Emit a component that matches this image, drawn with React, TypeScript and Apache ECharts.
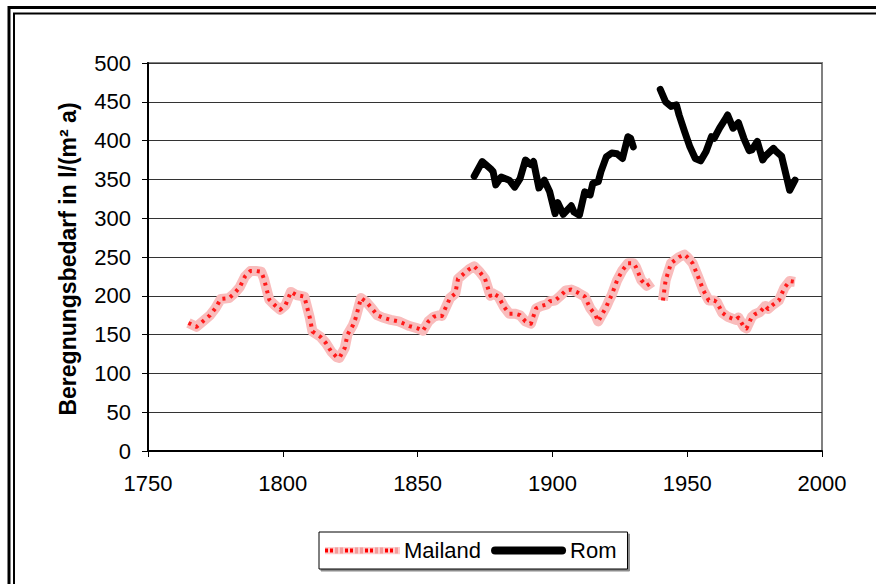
import React, { useEffect, useRef } from "react";
import * as echarts from "echarts";

const xTicks = [1750, 1800, 1850, 1900, 1950, 2000];
const yTicks = [0, 50, 100, 150, 200, 250, 300, 350, 400, 450, 500];

const mailandYears = [
  1765, 1768, 1771, 1773, 1775, 1777, 1780, 1782, 1784, 1786, 1788, 1790, 1792, 1793, 1795, 1797, 1799,
  1801, 1803, 1805, 1808, 1810, 1811, 1814, 1816, 1818, 1820, 1821, 1823, 1824, 1826, 1827, 1829, 1831,
  1833, 1835, 1837, 1840, 1843, 1845, 1847, 1850, 1852, 1854, 1856, 1858, 1859, 1862, 1864, 1865, 1867,
  1869, 1871, 1873, 1875, 1877, 1878, 1880, 1882, 1884, 1886, 1888, 1890, 1892, 1894, 1896, 1898, 1899,
  1901, 1903, 1905, 1907, 1909, 1910, 1912, 1914, 1916, 1917, 1920, 1921, 1922, 1924, 1926, 1928, 1930,
  1931, 1933, 1935, 1937, 1939, 1941, 1942, 1944, 1947, 1949, 1950, 1952, 1954, 1956, 1958, 1960, 1961,
  1963, 1965, 1968, 1969, 1971, 1972, 1974, 1975, 1977, 1979, 1980, 1982, 1984, 1986, 1988, 1990,
];
const mailandValues = [
  165, 160, 169, 175, 184, 196, 197, 203, 211, 225, 232, 232, 231, 222, 195, 188, 182,
  188, 205, 201, 199, 172, 154, 147, 139, 128, 121, 120, 133, 150, 162, 171, 197, 192,
  184, 175, 172, 169, 167, 164, 161, 158, 155, 167, 173, 175, 174, 197, 203, 222, 228,
  234, 238, 231, 222, 200, 203, 199, 186, 177, 177, 175, 167, 164, 184, 187, 189, 193,
  194, 200, 207, 208, 205, 203, 199, 184, 175, 167, 186, 194, 201, 220, 233, 242, 242,
  237, 220, 213, 218, null, 194, 220, 242, 250, 253, 250, 242, 225, 207, 194, 194, 192,
  178, 173, 169, 172, 160, 158, 173, 176, 179, 187, 183, 189, 194, 210, 219, 218,
];

const romYears = [
  1871, 1874, 1877, 1878, 1879, 1881, 1884, 1886, 1888, 1890, 1892, 1893, 1895, 1897, 1899, 1901, 1902,
  1904, 1907, 1908, 1910, 1912, 1914, 1915, 1917, 1918, 1920, 1922, 1924, 1926, 1928, 1929, 1930, 1935,
  1940, 1942, 1944, 1946, 1947, 1949, 1951, 1953, 1955, 1957, 1959, 1960, 1962, 1964, 1965, 1967, 1969,
  1971, 1973, 1974, 1976, 1978, 1979, 1982, 1983, 1985, 1987, 1988, 1990,
];
const romValues = [
  354, 373, 364, 360, 343, 353, 349, 340, 351, 375, 369, 373, 339, 349, 334, 306, 320,
  305, 316, 308, 304, 334, 330, 345, 347, 360, 379, 384, 383, 377, 405, 403, 392, null,
  466, 450, 444, 446, 433, 412, 392, 377, 374, 386, 405, 403, 416, 427, 433, 416, 423,
  403, 387, 388, 399, 375, 380, 390, 386, 380, 351, 336, 349,
];

const FONT = "'Liberation Sans', Arial, sans-serif";

function mailandIcon(): string {
  let squares = "";
  for (let x = 0; x < 75; x += 5) {
    const red = Math.floor(x / 10) % 2 === 0;
    squares += `<rect x="${x}" y="${red ? 2 : 1}" width="3" height="${red ? 4 : 6}" fill="${red ? "#ff0000" : "#f59a9a"}"/>`;
  }
  const svg = `<svg xmlns="http://www.w3.org/2000/svg" width="75" height="8" viewBox="0 0 75 8"><rect x="0" y="0" width="75" height="8" fill="#fbd0d0"/>${squares}</svg>`;
  return "image://data:image/svg+xml;charset=utf-8," + encodeURIComponent(svg);
}

export default function App() {
  const ref = useRef<HTMLDivElement>(null);
  useEffect(() => {
    if (!ref.current) return;
    const chart = echarts.init(ref.current, null, { renderer: "svg" });
    const mailandData = mailandYears.map((y, i) => [y, mailandValues[i]]);
    const romData = romYears.map((y, i) => [y, romValues[i]]);
    chart.setOption({
      animation: false,
      backgroundColor: "#ffffff",
      textStyle: { fontFamily: FONT },
      grid: {
        left: 148,
        right: 54,
        top: 63,
        bottom: 133,
        show: true,
        borderColor: "#808080",
        borderWidth: 2,
      },
      xAxis: {
        type: "value",
        min: xTicks[0],
        max: xTicks[xTicks.length - 1],
        interval: 50,
        axisLine: { show: true, onZero: false, lineStyle: { color: "#000", width: 2 } },
        axisTick: { show: true, length: 6, lineStyle: { color: "#000", width: 1 } },
        axisLabel: {
          fontSize: 22,
          color: "#000",
          margin: 21,
          fontFamily: FONT,
          formatter: (v: number) => String(v),
        },
        splitLine: { show: false },
      },
      yAxis: {
        type: "value",
        min: yTicks[0],
        max: yTicks[yTicks.length - 1],
        interval: 50,
        axisLine: { show: true, lineStyle: { color: "#000", width: 2 } },
        axisTick: { show: true, length: 6, lineStyle: { color: "#000", width: 1 } },
        axisLabel: {
          fontSize: 22,
          color: "#000",
          margin: 17,
          fontFamily: FONT,
          formatter: (v: number) => String(v),
        },
        splitLine: { show: true, lineStyle: { color: "#333", width: 1 } },
      },
      legend: {
        data: [
          { name: "Mailand", icon: mailandIcon() },
          {
            name: "Rom",
            icon: "path://M4,0 L71,0 A4,4 0 0 1 71,8 L4,8 A4,4 0 0 1 4,0 Z",
            itemStyle: { color: "#000" },
          },
        ],
        left: 319,
        top: 532,
        padding: [6, 11, 6, 6],
        itemWidth: 75,
        itemHeight: 8,
        itemGap: 10,
        borderColor: "#000",
        borderWidth: 1,
        backgroundColor: "#fff",
        shadowColor: "rgba(0,0,0,0.45)",
        shadowOffsetX: 2,
        shadowOffsetY: 2,
        shadowBlur: 0,
        textStyle: { fontSize: 22, color: "#000", fontFamily: FONT, lineHeight: 25, padding: [0, 0, 0, -1] },
      },
      graphic: [
        {
          type: "rect",
          silent: true,
          shape: { x: 9, y: 7.5, width: 1000, height: 1000 },
          style: { fill: "none", stroke: "#000", lineWidth: 3 },
        },
        {
          type: "rect",
          silent: true,
          shape: { x: 14, y: 13.5, width: 1000, height: 1000 },
          style: { fill: "none", stroke: "#000", lineWidth: 2 },
        },
        {
          type: "text",
          silent: true,
          x: 68,
          y: 259,
          rotation: Math.PI / 2,
          style: {
            text: "Beregnungsbedarf in l/(m² a)",
            font: `bold 23px ${FONT}`,
            fill: "#000",
            textAlign: "center",
            textVerticalAlign: "middle",
          },
        },
      ],
      series: [
        {
          name: "Mailand",
          type: "line",
          data: mailandData,
          showSymbol: false,
          symbol: "none",
          connectNulls: false,
          lineStyle: { color: "#f9bcbc", width: 10, cap: "butt", join: "round" },
          itemStyle: { color: "#f9bcbc" },
          z: 2,
        },
        {
          name: "Mailand-Punkte",
          type: "line",
          data: mailandData,
          showSymbol: false,
          symbol: "none",
          connectNulls: false,
          lineStyle: { color: "#ff1a1a", width: 4, type: [3, 5], cap: "butt", join: "round" },
          z: 3,
          silent: true,
        },
        {
          name: "Rom",
          type: "line",
          data: romData,
          showSymbol: false,
          symbol: "none",
          connectNulls: false,
          lineStyle: { color: "#000", width: 7, cap: "round", join: "round" },
          itemStyle: { color: "#000" },
          z: 4,
        },
      ],
    });
    return () => chart.dispose();
  }, []);
  return (
    <div
      ref={ref}
      style={{ position: "fixed", left: 0, top: 0, width: 876, height: 584, background: "#fff" }}
    />
  );
}
